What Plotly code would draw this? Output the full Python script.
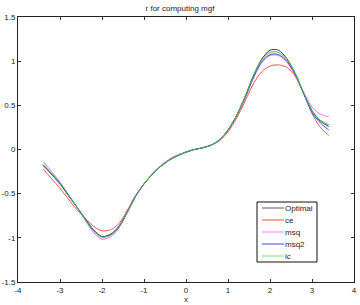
import plotly.graph_objects as go

x_vals = [-3.4, -3.2, -3.0, -2.8, -2.6, -2.4, -2.2, -2.0, -1.8, -1.6, -1.4, -1.2, -1.0, -0.8,
          -0.6, -0.4, -0.2, 0.0, 0.2, 0.4, 0.6, 0.8, 1.0, 1.2, 1.4, 1.6, 1.8, 2.0, 2.2,
          2.4, 2.6, 2.8, 3.0, 3.2, 3.4]

optimal = [-0.18, -0.28, -0.39, -0.52, -0.65, -0.78, -0.91, -0.985, -0.96, -0.87, -0.71, -0.53,
           -0.39, -0.28, -0.19, -0.12, -0.07, -0.03, 0.00, 0.02, 0.05, 0.11, 0.22, 0.38, 0.59,
           0.83, 1.02, 1.125, 1.125, 1.03, 0.86, 0.64, 0.44, 0.32, 0.26]
ce = [-0.22, -0.33, -0.44, -0.56, -0.68, -0.78, -0.87, -0.92, -0.91, -0.84, -0.69, -0.52,
      -0.39, -0.28, -0.19, -0.12, -0.07, -0.03, 0.00, 0.02, 0.05, 0.10, 0.20, 0.35, 0.54,
      0.74, 0.88, 0.945, 0.958, 0.93, 0.83, 0.64, 0.41, 0.25, 0.16]
msq = [-0.14, -0.25, -0.37, -0.51, -0.65, -0.80, -0.94, -1.015, -0.99, -0.89, -0.72, -0.53,
       -0.39, -0.27, -0.18, -0.11, -0.06, -0.03, 0.00, 0.02, 0.05, 0.11, 0.22, 0.37, 0.57,
       0.80, 0.98, 1.065, 1.065, 0.99, 0.84, 0.65, 0.48, 0.40, 0.37]
msq2 = [-0.18, -0.28, -0.39, -0.52, -0.65, -0.79, -0.92, -0.99, -0.97, -0.88, -0.71, -0.53,
        -0.39, -0.28, -0.19, -0.12, -0.07, -0.03, 0.00, 0.02, 0.05, 0.11, 0.22, 0.38, 0.58,
        0.81, 0.99, 1.075, 1.075, 1.00, 0.85, 0.63, 0.42, 0.30, 0.22]
ic = [-0.17, -0.27, -0.38, -0.51, -0.65, -0.79, -0.92, -0.99, -0.97, -0.88, -0.71, -0.53,
      -0.39, -0.28, -0.19, -0.12, -0.07, -0.03, 0.00, 0.02, 0.05, 0.11, 0.22, 0.38, 0.59,
      0.83, 1.01, 1.10, 1.10, 1.02, 0.86, 0.64, 0.44, 0.33, 0.28]

names = ["Optimal", "ce", "msq", "msq2", "ic"]
colors = ["#383838", "#ff5050", "#ff66ff", "#4848ff", "#30c030"]
legend_colors = ["#909090", "#ff8080", "#ffaaff", "#8080ff", "#a0f0a0"]
data = [optimal, ce, msq, msq2, ic]

x_ticks = [-4, -3, -2, -1, 0, 1, 2, 3, 4]
y_ticks = [-1.5, -1, -0.5, 0, 0.5, 1, 1.5]

W, H = 360, 305
L, R, T, B = 18, 6, 17, 23
pw, ph = W - L - R, H - T - B


def px(xp):
    return (xp - L) / pw


def py(yp):
    return (H - B - yp) / ph


fig = go.Figure()
for name, ys, col in zip(names, data, colors):
    fig.add_trace(go.Scatter(x=x_vals, y=ys, mode="lines", name=name, showlegend=False,
                             hoverinfo="skip",
                             line=dict(color=col, width=1, shape="spline", smoothing=0.8)))

fam = "Liberation Sans, Arial, sans-serif"
shapes = [dict(type="rect", xref="paper", yref="paper", x0=px(257), x1=px(317), y0=py(262), y1=py(202),
               line=dict(color="#111", width=1), fillcolor="white", layer="above")]
annotations = []
for i, (name, col) in enumerate(zip(names, legend_colors)):
    yy = 208 + 12 * i
    shapes.append(dict(type="line", xref="paper", yref="paper", x0=px(262), x1=px(284),
                       y0=py(yy), y1=py(yy), line=dict(color=col, width=1.5), layer="above"))
    annotations.append(dict(text=name, xref="paper", yref="paper", x=px(285), y=py(yy),
                            xanchor="left", yanchor="middle", showarrow=False,
                            borderpad=0, borderwidth=0,
                            font=dict(size=8, family=fam, color="#222")))
annotations.append(dict(text="x", xref="paper", yref="paper", x=px(186), y=py(299),
                        xanchor="center", yanchor="middle", showarrow=False,
                        font=dict(size=8, family=fam, color="#222")))

fig.update_layout(
    width=W, height=H,
    margin=dict(l=L, r=R, t=T, b=B),
    paper_bgcolor="white", plot_bgcolor="white",
    font=dict(family=fam, size=8, color="#222"),
    title=dict(text="r for computing mgf", x=0.5, xanchor="center", y=1 - 8 / H, yanchor="middle",
               font=dict(size=8, family=fam, color="#222")),
    showlegend=False,
    hovermode=False,
    shapes=shapes,
    annotations=annotations,
    xaxis=dict(range=[-4, 4], tickvals=x_ticks, ticktext=[str(v) for v in x_ticks],
               ticks="inside", ticklen=3, tickcolor="#333", showline=True, linecolor="#222",
               linewidth=1, mirror="ticks", showgrid=False, zeroline=False, automargin=False),
    yaxis=dict(range=[-1.5, 1.5], tickvals=y_ticks,
               ticktext=["-1.5", "-1", "-0.5", "0", "0.5", "1", "1.5"],
               ticks="inside", ticklen=3, tickcolor="#333", showline=True, linecolor="#222",
               linewidth=1, mirror="ticks", showgrid=False, zeroline=False, automargin=False),
)

fig.write_html("out.html", config={"displayModeBar": False, "staticPlot": True},
               post_script="document.body.style.margin='0';document.body.style.overflow='hidden';")
